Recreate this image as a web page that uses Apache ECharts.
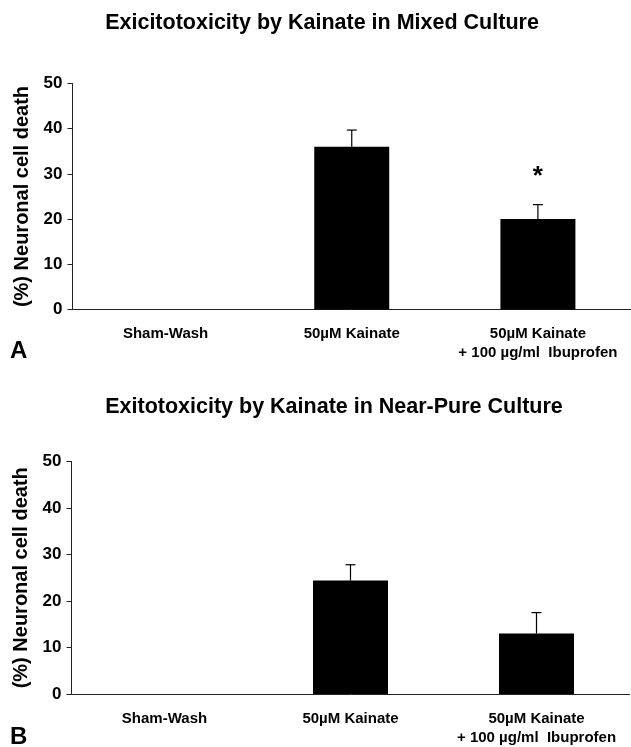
<!DOCTYPE html>
<html>
<head>
<meta charset="UTF-8">
<title>Excitotoxicity by Kainate</title>
<script src="https://cdn.jsdelivr.net/npm/echarts@6/dist/echarts.min.js"></script>
<style>
body { margin: 0; padding: 0; background: #fff; }
#main { width: 631px; height: 747px; }
</style>
</head>
<body>
<div id="main"></div>
<script>
// data
var categories = ['Sham-Wash', '50µM Kainate', '50µM Kainate\n+ 100 µg/ml  Ibuprofen'];
var mixedMean = [0, 36, 20];
var mixedErr = [0, 3.7, 3.2];
var mixedSig = ['', '', '*'];
var pureMean = [0, 24.4, 13];
var pureErr = [0, 3.4, 4.5];
var pureSig = ['', '', ''];
var yTicks = [0, 10, 20, 30, 40, 50];

var font = 'Liberation Sans, Arial, sans-serif';

function errSeries(idx, means, errs, sig) {
    return {
        type: 'custom',
        xAxisIndex: idx,
        yAxisIndex: idx,
        z: 5,
        data: means.map(function (m, i) { return [i, m, errs[i]]; }),
        renderItem: function (params, api) {
            var i = api.value(0);
            var m = api.value(1);
            var e = api.value(2);
            var children = [];
            if (e > 0) {
                var p0 = api.coord([i, m]);
                var p1 = api.coord([i, m + e]);
                children.push({
                    type: 'line',
                    shape: { x1: p0[0], y1: p0[1], x2: p1[0], y2: p1[1] },
                    style: { stroke: '#000', lineWidth: 1.2 }
                });
                children.push({
                    type: 'line',
                    shape: { x1: p1[0] - 5, y1: p1[1], x2: p1[0] + 5, y2: p1[1] },
                    style: { stroke: '#000', lineWidth: 1.2 }
                });
                if (sig[i]) {
                    children.push({
                        type: 'text',
                        x: p1[0],
                        y: p1[1] - 28,
                        style: {
                            text: sig[i], fill: '#000', font: 'bold 26px ' + font,
                            align: 'center', verticalAlign: 'middle'
                        }
                    });
                }
            }
            return { type: 'group', children: children };
        }
    };
}

function xAx(idx) {
    return {
        type: 'category',
        gridIndex: idx,
        data: categories,
        axisLine: { lineStyle: { color: '#222', width: 1 } },
        axisTick: { show: false },
        axisLabel: {
            color: '#000', fontFamily: font, fontWeight: 'bold', fontSize: 15,
            margin: 15, lineHeight: 19, interval: 0
        }
    };
}

function yAx(idx) {
    return {
        type: 'value',
        gridIndex: idx,
        min: yTicks[0],
        max: yTicks[yTicks.length - 1],
        interval: yTicks[1] - yTicks[0],
        name: '(%) Neuronal cell death',
        nameLocation: 'middle',
        nameGap: 39,
        nameTextStyle: { color: '#000', fontFamily: font, fontWeight: 'bold', fontSize: 20 },
        splitLine: { show: false },
        axisLine: { show: true, lineStyle: { color: '#222', width: 1 } },
        axisTick: { show: true, length: 5, lineStyle: { color: '#222' } },
        axisLabel: { color: '#000', fontFamily: font, fontWeight: 'bold', fontSize: 17, margin: 10 }
    };
}

var myChart = echarts.init(document.getElementById('main'));
var option = {
    backgroundColor: '#fff',
    animation: false,
    grid: [
        { left: 72.5, top: 83.5, width: 562, height: 226 },
        { left: 71.5, top: 461.5, width: 558, height: 235 }
    ],
    xAxis: [xAx(0), xAx(1)],
    yAxis: [yAx(0), yAx(1)],
    graphic: [
        { type: 'text', x: 322, y: 23, style: { text: 'Exicitotoxicity by Kainate in Mixed Culture', font: 'bold 21.5px ' + font, fill: '#000', align: 'center', verticalAlign: 'middle' } },
        { type: 'text', x: 334, y: 407, style: { text: 'Exitotoxicity by Kainate in Near-Pure Culture', font: 'bold 21.5px ' + font, fill: '#000', align: 'center', verticalAlign: 'middle' } },
        { type: 'text', x: 10, y: 351, style: { text: 'A', font: 'bold 24px ' + font, fill: '#000', verticalAlign: 'middle' } },
        { type: 'text', x: 10, y: 737, style: { text: 'B', font: 'bold 24px ' + font, fill: '#000', verticalAlign: 'middle' } }
    ],
    series: [
        { type: 'bar', xAxisIndex: 0, yAxisIndex: 0, data: mixedMean, barWidth: 75, itemStyle: { color: '#000' } },
        errSeries(0, mixedMean, mixedErr, mixedSig),
        { type: 'bar', xAxisIndex: 1, yAxisIndex: 1, data: pureMean, barWidth: 75, itemStyle: { color: '#000' } },
        errSeries(1, pureMean, pureErr, pureSig)
    ]
};
myChart.setOption(option);
</script>
</body>
</html>
